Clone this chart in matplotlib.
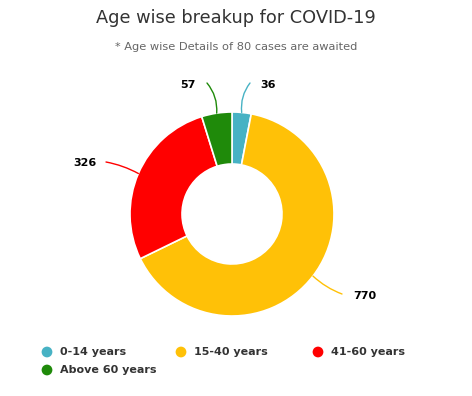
import matplotlib
matplotlib.use("Agg")
import matplotlib.pyplot as plt
import numpy as np

categories = ["0-14 years", "15-40 years", "41-60 years", "Above 60 years"]
values = [36, 770, 326, 57]
colors = ["#47b2c4", "#ffc107", "#ff0000", "#1f8a0a"]
title = "Age wise breakup for COVID-19"
subtitle = "* Age wise Details of 80 cases are awaited"

W, H = 472, 396
fig = plt.figure(figsize=(W / 100, H / 100), dpi=100)
ax = fig.add_axes([0, 0, 1, 1])

cx, cy, R = 232, H - 214, 102
wedges, _ = ax.pie(values, colors=colors, startangle=90, counterclock=False,
                   center=(cx, cy), radius=R, frame=True,
                   wedgeprops=dict(width=R * 0.51, edgecolor="white", linewidth=1.2))
ax.set_xlim(0, W)
ax.set_ylim(0, H)
ax.set_aspect("equal")
ax.axis("off")

# data labels with curved connectors
label_pos = [(268, H - 85), (365, H - 296), (85, H - 163), (188, H - 85)]
conn_end = [(250, H - 83), (342, H - 294), (106, H - 162), (207, H - 83)]
rads = [0.2, -0.1, -0.08, -0.2]
for w, v, lp, ce, rad, c in zip(wedges, values, label_pos, conn_end, rads, colors):
    ang = np.deg2rad((w.theta1 + w.theta2) / 2)
    sx, sy = cx + R * np.cos(ang), cy + R * np.sin(ang)
    ax.annotate("", xy=(sx, sy), xytext=ce,
                arrowprops=dict(arrowstyle="-", color=c, lw=1,
                                connectionstyle=f"arc3,rad={rad}", shrinkA=0, shrinkB=0))
    ax.text(lp[0], lp[1], str(v), ha="center", va="center", fontsize=8,
            fontweight="bold", color="black")

fig.text(0.5, 1 - 18 / H, title, ha="center", va="center", fontsize=12.8, color="#333333")
fig.text(0.5, 1 - 47 / H, subtitle, ha="center", va="center", fontsize=8.2, color="#666666")

# legend (row-major, fixed item width like the original)
leg_x = [47, 181, 318, 47]
leg_y = [352, 352, 352, 370]
for c, name, lx, ly in zip(colors, categories, leg_x, leg_y):
    ax.scatter([lx], [H - ly], s=60, color=c, edgecolors="none")
    ax.text(lx + 13, H - ly, name, ha="left", va="center", fontsize=8,
            fontweight="bold", color="#333333")

fig.savefig("out.png", dpi=100, facecolor="white")
